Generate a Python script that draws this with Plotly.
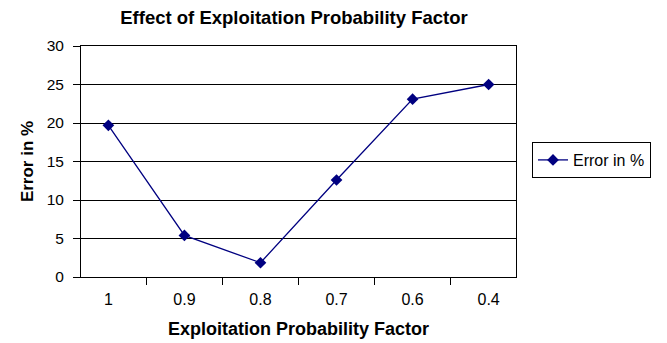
import plotly.graph_objects as go

categories = ["1", "0.9", "0.8", "0.7", "0.6", "0.4"]
error_pct = [19.7, 5.4, 1.85, 12.6, 23.1, 25.0]
series_name = "Error in %"
y_ticks = [0, 5, 10, 15, 20, 25, 30]

FONT = "Liberation Sans, Arial, sans-serif"
NAVY = "#000080"

# page body has an 8px default margin; figure coords = screen coords - 8
W, H = 659, 335
L, R, T, B = 73, 508, 38, 269   # plot area in figure coords

fig = go.Figure()
fig.add_trace(go.Scatter(
    x=categories, y=error_pct, name=series_name,
    mode="lines+markers",
    line=dict(color=NAVY, width=1.3),
    marker=dict(symbol="diamond", size=9, color=NAVY),
))

fig.update_layout(
    width=W, height=H,
    margin=dict(l=L, r=W - R, t=T, b=H - B, autoexpand=False),
    paper_bgcolor="white", plot_bgcolor="white",
    font=dict(family=FONT, color="black", size=15),
    title=dict(text="<b>Effect of Exploitation Probability Factor</b>",
               x=286 / W, xanchor="center", y=1 - 10 / H, yanchor="middle",
               font=dict(size=18.5, family=FONT, color="black")),
    showlegend=True,
    legend=dict(x=(524 - L) / (R - L), xanchor="left",
                y=(B - 152) / (B - T), yanchor="middle",
                bordercolor="black", borderwidth=1, bgcolor="white",
                font=dict(size=16, family=FONT, color="black")),
)
fig.update_xaxes(
    type="category", tickson="boundaries", automargin=False,
    showline=True, linecolor="black", linewidth=1, mirror=True,
    ticks="outside", ticklen=7, tickcolor="black", ticklabelstandoff=8,
    showgrid=False, zeroline=False,
    tickfont=dict(size=16),
    title=dict(text="<b>Exploitation Probability Factor</b>", standoff=15,
               font=dict(size=18)),
)
fig.update_yaxes(
    range=[0, 30], tickvals=y_ticks, automargin=False,
    showline=True, linecolor="black", linewidth=1, mirror=True,
    ticks="outside", ticklen=7, tickcolor="black", ticklabelstandoff=6,
    showgrid=True, gridcolor="black", gridwidth=1, zeroline=False,
    tickfont=dict(size=15.5),
    title=dict(text="<b>Error in %</b>", standoff=8, font=dict(size=17)),
)

fig.write_html("out.html")
